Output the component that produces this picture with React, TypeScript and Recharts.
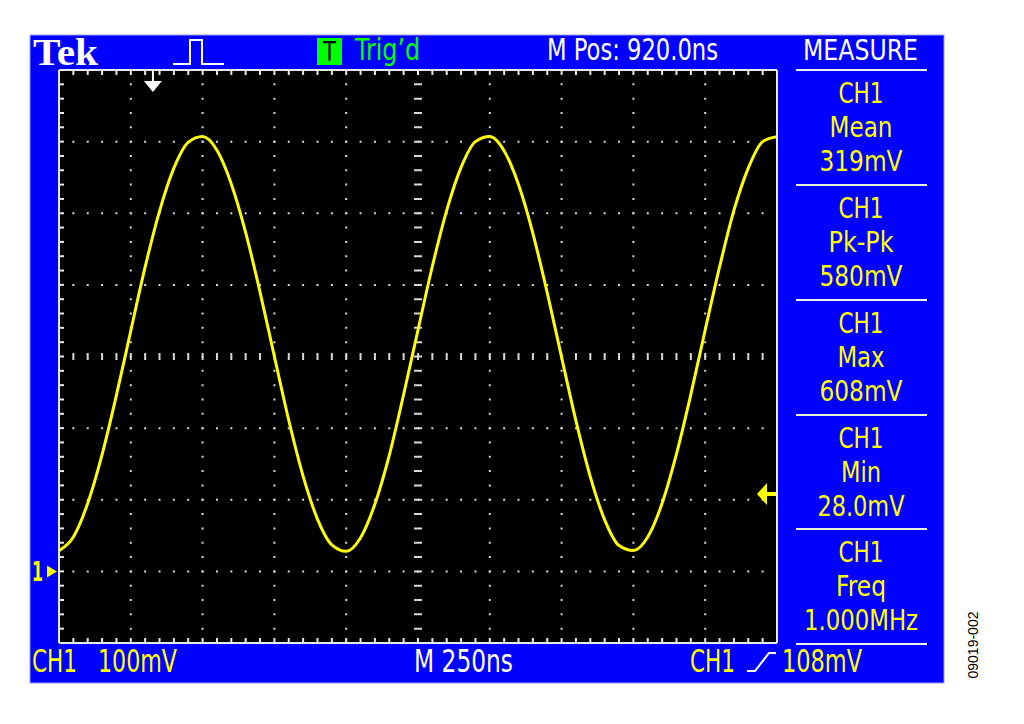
import { LineChart, Line, XAxis, YAxis, ReferenceLine, ReferenceDot, CartesianGrid } from "recharts";

// CH1 trace: time in ns (250 ns/div), voltage in mV (100 mV/div)
const timeNs = [
  0, 50, 100, 150, 200, 250, 300, 350, 400, 450, 500, 550, 600, 650, 700, 750, 800, 850, 900, 950,
  1000, 1050, 1100, 1150, 1200, 1250, 1300, 1350, 1400, 1450, 1500, 1550, 1600, 1650, 1700, 1750, 1800, 1850, 1900, 1950,
  2000, 2050, 2100, 2150, 2200, 2250, 2300, 2350, 2400, 2450, 2500,
];
const ch1mV = [
  29, 48, 95, 163, 246, 336, 425, 503, 563, 599, 607, 588, 541, 473, 390, 300, 211, 133, 73, 37,
  28, 47, 94, 162, 247, 337, 426, 504, 564, 600, 607, 587, 540, 472, 389, 299, 210, 132, 72, 36,
  29, 48, 95, 164, 247, 337, 425, 504, 563, 600, 607,
];

// graticule: 10 x 8 divisions, minor ticks every 1/5 div
const xDomain = [0, 2500];
const yDomain = [-100, 700];
const xDivs = [250, 500, 750, 1000, 1500, 1750, 2000, 2250];
const yDivs = [0, 100, 200, 400, 500, 600];
const xCenter = 1250;
const yCenter = 300;
const xMinor = Array.from({ length: 51 }, (_, i) => i * 50);
const yMinor = Array.from({ length: 41 }, (_, i) => -100 + i * 20);

// markers
const triggerPosNs = 327;
const triggerLevelmV = 108;
const groundmV = 0;

// measure panel
const measures = [
  { name: "Mean", value: "319mV", wName: 63, wValue: 83 },
  { name: "Pk-Pk", value: "580mV", wName: 65, wValue: 83 },
  { name: "Max", value: "608mV", wName: 47, wValue: 83 },
  { name: "Min", value: "28.0mV", wName: 40, wValue: 87 },
  { name: "Freq", value: "1.000MHz", wName: 50, wValue: 114 },
];

const data = timeNs.map((t, i) => ({ t, v: ch1mV[i] }));

const BLUE = "#0000ff";
const YEL = "#ffff00";
const BORDER = "#e8e8e8";
const DOT = "#d8d8d8";
const FONT = "'DejaVu Sans', sans-serif";

function T({ x, y, w, size = 29, fill = YEL, anchor = "start", children }: any) {
  return (
    <text x={x} y={y} fontSize={size} fill={fill} fontFamily={FONT} textAnchor={anchor}
      textLength={w} lengthAdjust="spacingAndGlyphs">
      {children}
    </text>
  );
}

function Backdrop() {
  const seps = [70, 185, 300, 415, 529, 644];
  return (
    <svg width={1024} height={724} style={{ position: "absolute", left: 0, top: 0 }}>
      <rect x={30} y={35} width={914} height={648} fill={BLUE} stroke="#9a9aff" strokeWidth={1} />
      <text x={33} y={65} fontSize={38} fontWeight="bold" fill="#fff" fontFamily="'Liberation Serif', serif"
        textLength={65} lengthAdjust="spacingAndGlyphs">Tek</text>
      <polyline points="173,64 190,64 190,40 202,40 202,64 224,64" fill="none" stroke="#fff" strokeWidth={2} />
      <rect x={317} y={38} width={25} height={27} fill="#00ff00" />
      <T x={329.5} y={61} w={13} size={26} fill="#000" anchor="middle">T</T>
      <T x={355} y={60} w={65} size={30} fill="#00ff00">Trig’d</T>
      <T x={547} y={60} w={171} size={30} fill="#fff">M Pos: 920.0ns</T>
      <T x={860.5} y={60} w={115} size={29} fill="#fff" anchor="middle">MEASURE</T>
      {seps.map((y) => (
        <line key={y} x1={796} x2={927} y1={y} y2={y} stroke="#eeeedd" strokeWidth={2} />
      ))}
      {measures.map((m, i) => (
        <g key={m.name}>
          <T x={861} y={seps[i] + 33} w={45} anchor="middle">CH1</T>
          <T x={861} y={seps[i] + 67} w={m.wName} anchor="middle">{m.name}</T>
          <T x={861} y={seps[i] + 101} w={m.wValue} anchor="middle">{m.value}</T>
        </g>
      ))}
      <T x={32} y={672} w={45} size={32}>CH1</T>
      <T x={98} y={672} w={79} size={32}>100mV</T>
      <T x={414} y={672} w={99} size={32} fill="#fff">M 250ns</T>
      <T x={690} y={672} w={45} size={32}>CH1</T>
      <polyline points="747,671 755,671 769,653 776,653" fill="none" stroke="#fff" strokeWidth={2} />
      <T x={782} y={672} w={80} size={32}>108mV</T>
      <text x={973} y={645} fontSize={14} fill="#000" fontFamily="'Liberation Sans', Arial, sans-serif"
        textAnchor="middle" dominantBaseline="central" transform="rotate(-90 973 645)">09019-002</text>
    </svg>
  );
}

const NoLabel = () => <g />;

const TrigPosArrow = (p: any) => (
  <path d={`M${p.cx - 1},${p.cy + 1} h2 v10 h8 l-9,11 l-9,-11 h8 z`} fill="#fff" />
);
const TrigLevelArrow = (p: any) => (
  <path d={`M${p.cx - 20},${p.cy} l10,-11 v9 h9 v4 h-9 v9 z`} fill={YEL} />
);
const GroundMarker = (p: any) => (
  <g>
    <text x={p.cx - 27} y={p.cy + 10} fontSize={26} fontWeight="bold" fill={YEL} fontFamily={FONT}
      textLength={11} lengthAdjust="spacingAndGlyphs">1</text>
    <path d={`M${p.cx - 12},${p.cy - 6} L${p.cx - 2},${p.cy} L${p.cx - 12},${p.cy + 6} z`} fill={YEL} />
  </g>
);

export default function App() {
  const axisLine = { stroke: BORDER, strokeWidth: 2 };
  const tickLine = { stroke: BORDER, strokeWidth: 2 };
  const common = { tick: NoLabel, tickSize: 5, interval: 0 as const, axisLine, tickLine, mirror: true };
  return (
    <div style={{ position: "absolute", left: 0, top: 0, width: 1024, height: 724, background: "#fff" }}>
      <Backdrop />
      <div style={{ position: "absolute", left: 0, top: 0 }}>
        <LineChart width={1024} height={724} data={data} margin={{ top: 70, right: 247, bottom: 81, left: 59 }}>
          <XAxis xAxisId="b" dataKey="t" type="number" domain={xDomain} orientation="bottom" ticks={xMinor} {...common} />
          <XAxis xAxisId="t" dataKey="t" type="number" domain={xDomain} orientation="top" ticks={xMinor} {...common} />
          <YAxis yAxisId="l" type="number" domain={yDomain} orientation="left" ticks={yMinor} {...common} />
          <YAxis yAxisId="r" type="number" domain={yDomain} orientation="right" ticks={yMinor} {...common} />
          <CartesianGrid xAxisId="b" yAxisId="l" fill="#000" fillOpacity={1} horizontal={false} vertical={false} />

          {/* dotted graticule */}
          {xDivs.map((x) => (
            <ReferenceLine key={`x${x}`} xAxisId="b" yAxisId="l" x={x} stroke={DOT} strokeWidth={2}
              strokeDasharray="2 12.325" strokeDashoffset={1} />
          ))}
          {yDivs.map((y) => (
            <ReferenceLine key={`y${y}`} xAxisId="b" yAxisId="l" y={y} stroke={DOT} strokeWidth={2}
              strokeDasharray="2 12.36" strokeDashoffset={1} />
          ))}
          {/* center crosshair with minor ticks */}
          <ReferenceLine xAxisId="b" yAxisId="l" x={xCenter} stroke={DOT} strokeWidth={8}
            strokeDasharray="2 12.325" strokeDashoffset={1} />
          <ReferenceLine xAxisId="b" yAxisId="l" y={yCenter} stroke={DOT} strokeWidth={7}
            strokeDasharray="2 12.36" strokeDashoffset={1} />

          <Line xAxisId="b" yAxisId="l" dataKey="v" type="monotone" stroke={YEL} strokeWidth={3}
            dot={false} activeDot={false} isAnimationActive={false} />

          <ReferenceDot xAxisId="b" yAxisId="l" x={triggerPosNs} y={yDomain[1]} shape={TrigPosArrow} />
          <ReferenceDot xAxisId="b" yAxisId="l" x={xDomain[1]} y={triggerLevelmV} shape={TrigLevelArrow} />
          <ReferenceDot xAxisId="b" yAxisId="l" x={xDomain[0]} y={groundmV} shape={GroundMarker} />
        </LineChart>
      </div>
    </div>
  );
}
